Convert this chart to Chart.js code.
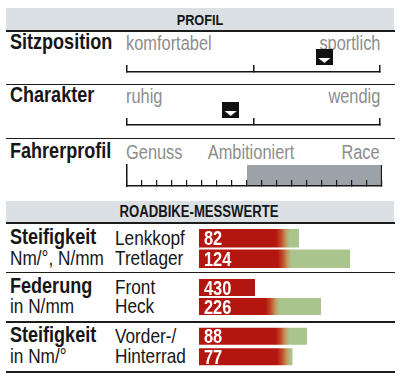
<!DOCTYPE html>
<html>
<head>
<meta charset="utf-8">
<script src="https://cdn.jsdelivr.net/npm/chart.js@4.4.1/dist/chart.umd.min.js"></script>
<style>
body { margin: 0; background: #fff; }
#page { position: relative; width: 400px; height: 386px; overflow: hidden;
        font-family: "Liberation Sans", Arial, sans-serif; color: #161616; }
.t { position: absolute; white-space: nowrap; line-height: 1; }
.band { position: absolute; left: 6px; width: 388px; background: #dbe0e4; }
.rule { position: absolute; left: 6px; width: 389px; background: #1c1c1c; }
canvas { position: absolute; }
</style>
</head>
<body>
<div id="page"></div>
<script>
// ---------------- DATA ----------------
const profilTitle = 'PROFIL';
const profilRows = ['Sitzposition', 'Charakter', 'Fahrerprofil'];
const sitzLabels = ['komfortabel', 'sportlich'];
const sitzValue = [0.78];
const charLabels = ['ruhig', 'wendig'];
const charValue = [0.41];
const fahrerLabels = ['Genuss', 'Ambitioniert', 'Race'];
const fahrerSteps = 17;
const fahrerRange = [8, 17];

const messTitle = 'ROADBIKE-MESSWERTE';

const stiffTitle = ['Steifigkeit', 'Nm/°, N/mm'];
const stiffCats = ['Lenkkopf', 'Tretlager'];
const stiffValues = [82, 124];
const stiffBar = [50, 75.5];
const stiffRed = [42, 42.75];

const springTitle = ['Federung', 'in N/mm'];
const springCats = ['Front', 'Heck'];
const springValues = [430, 226];
const springBar = [28, 61];
const springRed = [28, 36.75];

const wheelTitle = ['Steifigkeit', 'in Nm/°'];
const wheelCats = ['Vorder-/', 'Hinterrad'];
const wheelValues = [88, 77];
const wheelBar = [54, 46.75];
const wheelRed = [41.75, 42.5];

// ---------------- HELPERS ----------------
const page = document.getElementById('page');
const ink = '#161616';
const grey = '#8d8d8d';
const red = '#b3150f';
const green = '#aac48e';
const narrow = 0.82;   // Liberation Sans squeezed to look like a narrow face

function text(str, x, base, size, o = {}) {
    const d = document.createElement('div');
    d.className = 't';
    d.textContent = str;
    d.style.fontSize = size + 'px';
    d.style.top = (base - 0.8465 * size) + 'px';
    d.style.fontWeight = o.bold ? 'bold' : 'normal';
    if (o.color) d.style.color = o.color;
    if (o.align === 'right') {
        d.style.right = (400 - x) + 'px';
        d.style.transformOrigin = 'right';
        d.style.transform = `scaleX(${narrow})`;
    } else if (o.align === 'center') {
        d.style.left = x + 'px';
        d.style.transformOrigin = 'left';
        d.style.transform = `scaleX(${narrow}) translateX(-50%)`;
    } else {
        d.style.left = x + 'px';
        d.style.transformOrigin = 'left';
        d.style.transform = `scaleX(${narrow})`;
    }
    page.appendChild(d);
}

function block(cls, top, h) {
    const d = document.createElement('div');
    d.className = cls;
    d.style.top = top + 'px';
    d.style.height = h + 'px';
    page.appendChild(d);
}

function canvas(left, top, w, h) {
    const c = document.createElement('canvas');
    c.width = w; c.height = h;
    c.style.left = left + 'px';
    c.style.top = top + 'px';
    page.appendChild(c);
    return c;
}

// black box with white arrow, drawn above the point
function makeMarker() {
    const c = document.createElement('canvas');
    c.width = 17; c.height = 46;
    const g = c.getContext('2d');
    g.fillStyle = '#111';
    g.fillRect(0, 0, 17, 16);
    g.fillStyle = '#fff';
    g.beginPath();
    g.moveTo(2.5, 9); g.lineTo(14.5, 9); g.lineTo(8.5, 14);
    g.closePath();
    g.fill();
    return c;
}
const marker = makeMarker();

const baseOptions = {
    responsive: false,
    animation: false,
    events: [],
    plugins: { legend: { display: false }, tooltip: { enabled: false } }
};

// ---------------- PROFIL ----------------
block('band', 8, 22);
block('rule', 30, 2);
block('rule', 84, 1);
block('rule', 138, 1);
text(profilTitle, 200, 25, 15.5, { bold: true, align: 'center' });

text(profilRows[0], 10, 50, 22, { bold: true });
text(sitzLabels[0], 126, 50, 20, { color: grey });
text(sitzLabels[1], 380, 50, 20, { color: grey, align: 'right' });

text(profilRows[1], 10, 103, 22, { bold: true });
text(charLabels[0], 126, 103, 20, { color: grey });
text(charLabels[1], 380, 103, 20, { color: grey, align: 'right' });

text(profilRows[2], 10, 159, 22, { bold: true });
text(fahrerLabels[0], 126, 159, 20, { color: grey });
text(fahrerLabels[1], 251, 159, 20, { color: grey, align: 'center' });
text(fahrerLabels[2], 380, 159, 20, { color: grey, align: 'right' });

function scaleRow(top, value) {
    new Chart(canvas(117, top, 273, 32), {
        type: 'scatter',
        data: {
            datasets: [{
                data: value.map(v => ({ x: v, y: 0 })),
                pointStyle: marker,
                pointRadius: 3,
                clip: false
            }]
        },
        options: {
            ...baseOptions,
            layout: { padding: { left: 10, right: 10, top: 0, bottom: 2 } },
            scales: {
                x: {
                    type: 'linear', min: 0, max: 1,
                    afterFit: s => { s.height = 0; },
                    ticks: { display: false, stepSize: 0.5 },
                    grid: { drawOnChartArea: false, tickLength: -7, color: ink, lineWidth: 1.5, z: 1 },
                    border: { color: ink, width: 1.5, z: 1 }
                },
                y: { display: false, min: 0, max: 1 }
            }
        }
    });
}
scaleRow(45, sitzValue);
scaleRow(98, charValue);

new Chart(canvas(117, 160, 275, 28), {
    type: 'bar',
    data: {
        labels: [profilRows[2]],
        datasets: [{
            data: [fahrerRange],
            backgroundColor: '#9ba3a9',
            borderColor: ink,
            borderWidth: { left: 0, top: 0, bottom: 0, right: 1.5 },
            borderSkipped: false,
            barPercentage: 1,
            categoryPercentage: 1
        }]
    },
    options: {
        ...baseOptions,
        indexAxis: 'y',
        layout: { padding: { left: 10, right: 10, top: 5, bottom: 2 } },
        scales: {
            x: {
                type: 'linear', min: 0, max: fahrerSteps,
                afterFit: s => { s.height = 0; },
                ticks: { display: false, stepSize: 1 },
                grid: { drawOnChartArea: false, tickLength: -6, color: ink, lineWidth: 1.2, z: 1 },
                border: { color: ink, width: 1.5, z: 1 }
            },
            y: {
                afterFit: s => { s.width = 0; },
                ticks: { display: false },
                grid: { drawOnChartArea: false, drawTicks: false },
                border: { color: ink, width: 1.5, z: 1 }
            }
        }
    }
});

// ---------------- MESSWERTE ----------------
block('band', 201, 21);
block('rule', 222, 2);
block('rule', 272, 1);
block('rule', 321, 1.5);
block('rule', 371, 1.5);
text(messTitle, 199, 218, 16, { bold: true, align: 'center' });

function fillFor(ctx, reds) {
    const chart = ctx.chart;
    if (!chart.chartArea || ctx.type !== 'data') return red;
    const r = reds[ctx.dataIndex];
    if (r >= ctx.raw) return red;
    const p = chart.scales.x.getPixelForValue(r);
    const g = chart.ctx.createLinearGradient(p - 7, 0, p + 7, 0);
    g.addColorStop(0, red);
    g.addColorStop(0.4, '#c2532a');
    g.addColorStop(0.7, '#c39a62');
    g.addColorStop(1, green);
    return g;
}

const valueLabels = values => ({
    id: 'valueLabels',
    afterDatasetsDraw(chart) {
        const g = chart.ctx;
        const x0 = chart.scales.x.getPixelForValue(0);
        g.fillStyle = '#fff';
        g.font = 'bold 20px "Liberation Sans", Arial, sans-serif';
        chart.getDatasetMeta(0).data.forEach((bar, i) => {
            g.save();
            g.translate(x0 + 5, bar.y + 7);
            g.scale(narrow, 1);
            g.fillText(String(values[i]), 0, 0);
            g.restore();
        });
    }
});

function barGroup(top, h, pct, title, cats, values, bars, reds) {
    const c1 = top + h / 4, c2 = top + 3 * h / 4;
    text(title[0], 10, c1 + 6.5, 22, { bold: true });
    text(title[1], 10, c2 + 6.5, 21);
    text(cats[0], 115, c1 + 6.5, 21);
    text(cats[1], 115, c2 + 6.5, 21);

    new Chart(canvas(199, top, 200, h), {
        type: 'bar',
        data: {
            labels: cats,
            datasets: [{
                data: bars,
                barPercentage: pct,
                categoryPercentage: 1,
                backgroundColor: ctx => fillFor(ctx, reds)
            }]
        },
        options: {
            ...baseOptions,
            indexAxis: 'y',
            scales: {
                x: { display: false, min: 0, max: 100 },
                y: { display: false }
            }
        },
        plugins: [valueLabels(values)]
    });
}

barGroup(228, 41, 0.9, stiffTitle, stiffCats, stiffValues, stiffBar, stiffRed);
barGroup(278, 38, 0.9, springTitle, springCats, springValues, springBar, springRed);
barGroup(326, 41, 0.83, wheelTitle, wheelCats, wheelValues, wheelBar, wheelRed);
</script>
</body>
</html>
